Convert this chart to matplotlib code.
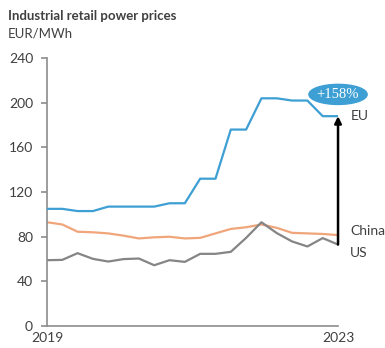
import matplotlib.pyplot as plt
from matplotlib.patches import Ellipse

plt.rcParams['font.family'] = ['Lato', 'DejaVu Sans']

# Quarterly industrial retail power prices, EUR/MWh
quarters = [f"{y}Q{q}" for y in range(2019, 2024) for q in range(1, 5)]
eu = [105, 105, 103, 103, 107, 107, 107, 107, 110, 110,
      132, 132, 176, 176, 204, 204, 202, 202, 188, 188]
china = [93, 91, 84.5, 84, 83, 81, 78.5, 79.5, 80, 78.5,
         79, 83, 87, 88.5, 91, 88, 83.5, 83, 82.5, 81.5]
us = [59, 59.3, 65.3, 60.2, 57.8, 60, 60.5, 54.5, 59, 57.5,
      64.7, 64.7, 66.5, 79, 93, 83.3, 75.8, 71.3, 78.8, 73]
year_labels = ['2019', '2023']

BLUE = '#3d9fd3'
ORANGE = '#f0a57a'
GREY = '#858585'
AXIS = '#8c8c8c'
TEXT = '#404040'

x = list(range(len(quarters)))

fig = plt.figure(figsize=(3.85, 3.48), dpi=100)
ax = fig.add_axes([0.122, 0.063, 0.756, 0.770])

ax.plot(x, eu, color=BLUE, lw=1.6, zorder=3)
ax.plot(x, china, color=ORANGE, lw=1.6, zorder=2)
ax.plot(x, us, color=GREY, lw=1.6, zorder=2)

ax.set_xlim(0, len(x) - 1)
ax.set_ylim(0, 240)
ax.set_yticks(range(0, 241, 40))
ax.set_xticks([0, len(x) - 1])
ax.set_xticklabels(year_labels)

for side in ['top', 'right']:
    ax.spines[side].set_visible(False)
for side in ['left', 'bottom']:
    ax.spines[side].set_color(AXIS)
    ax.spines[side].set_linewidth(1.2)
ax.tick_params(axis='y', direction='out', length=4, width=1.2, color=AXIS,
               labelsize=10, labelcolor=TEXT, pad=6)
ax.tick_params(axis='x', length=0, labelsize=10, labelcolor=TEXT, pad=4)

# arrow from the US level up to the EU level at the last quarter
last = len(x) - 1
ax.annotate('', xy=(last, eu[-1]), xytext=(last, us[-1]),
            arrowprops=dict(arrowstyle='-|>', color='black', lw=1.8,
                            mutation_scale=10, shrinkA=0, shrinkB=0),
            zorder=4)

pct = (eu[-1] / us[-1] - 1) * 100
ax.add_patch(Ellipse((last, 207.5), width=3.8, height=18, color=BLUE,
                     clip_on=False, zorder=5))
ax.text(last, 207.5, f'+{pct:.0f}%', color='white', fontsize=10.5,
        family='Liberation Serif', ha='center', va='center', zorder=6)

ax.text(last + 0.85, eu[-1], 'EU', color=TEXT, fontsize=10, va='center')
ax.text(last + 0.8, china[-1] + 4, 'China', color=TEXT, fontsize=10,
        va='center')
ax.text(last + 0.8, us[-1] - 7.5, 'US', color=TEXT, fontsize=10, va='center')

fig.text(0.02, 0.955, 'Industrial retail power prices', color=TEXT,
         fontsize=9.5, fontweight='bold', va='center')
fig.text(0.02, 0.905, 'EUR/MWh', color=TEXT, fontsize=9.5, va='center')

fig.savefig('out.png', dpi=100)
